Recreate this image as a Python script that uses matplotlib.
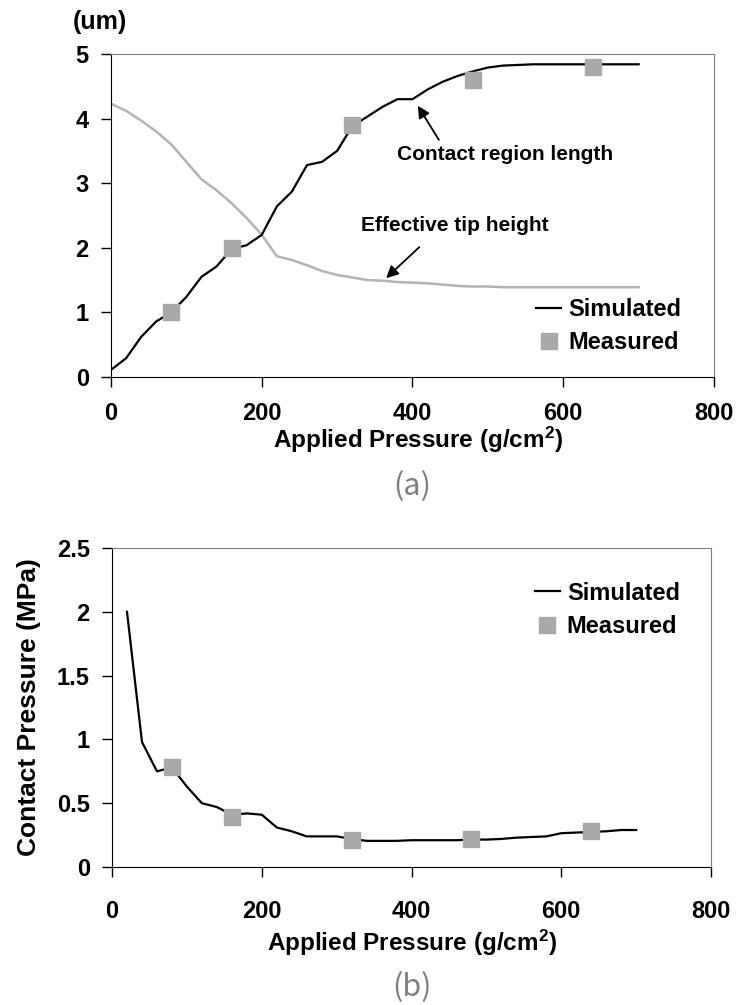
import matplotlib
matplotlib.use("Agg")
import matplotlib.pyplot as plt
from matplotlib.ticker import FuncFormatter

plt.rcParams['font.family'] = ['Liberation Sans', 'DejaVu Sans']
plt.rcParams['mathtext.default'] = 'regular'

# (a) simulated curves, every 20 g/cm2
sim_x = [0, 20, 40, 60, 80, 100, 120, 140, 160, 180, 200, 220, 240, 260, 280,
         300, 320, 340, 360, 380, 400, 420, 440, 460, 480, 500, 520, 540, 560,
         580, 600, 620, 640, 660, 680, 700]
contact_len = [0.11, 0.29, 0.62, 0.86, 1.0, 1.24, 1.55, 1.71, 1.98, 2.04, 2.2,
               2.64, 2.87, 3.28, 3.33, 3.5, 3.88, 4.03, 4.18, 4.3, 4.3, 4.45,
               4.57, 4.66, 4.73, 4.79, 4.82, 4.83, 4.84, 4.84, 4.84, 4.84,
               4.84, 4.84, 4.84, 4.84]
tip_height = [4.23, 4.12, 3.97, 3.8, 3.6, 3.33, 3.06, 2.89, 2.69, 2.46, 2.2,
              1.87, 1.81, 1.73, 1.64, 1.58, 1.54, 1.5, 1.49, 1.47, 1.46, 1.45,
              1.43, 1.41, 1.4, 1.4, 1.39, 1.39, 1.39, 1.39, 1.39, 1.39, 1.39,
              1.39, 1.39, 1.39]
meas_x = [80, 160, 320, 480, 640]
meas_len = [1.0, 2.0, 3.9, 4.6, 4.8]

# (b) contact pressure
cp_x = [20, 40, 60, 80, 100, 120, 140, 160, 180, 200, 220, 240, 260, 280, 300,
        320, 340, 360, 380, 400, 420, 440, 460, 480, 500, 520, 540, 560, 580,
        600, 620, 640, 660, 680, 700]
cp_sim = [2.0, 0.98, 0.75, 0.78, 0.63, 0.5, 0.47, 0.41, 0.42, 0.41, 0.31, 0.28,
          0.24, 0.24, 0.24, 0.22, 0.205, 0.205, 0.205, 0.21, 0.21, 0.21, 0.21,
          0.215, 0.215, 0.22, 0.23, 0.235, 0.24, 0.265, 0.27, 0.275, 0.28,
          0.29, 0.29]
cp_meas = [0.78, 0.39, 0.21, 0.22, 0.28]

xticks = [0, 200, 400, 600, 800]
gray = '#a9a9a9'
tick_fs = 17
label_fs = 17.5
leg_fs = 17
cjk = ['Noto Sans CJK KR', 'DejaVu Sans']


def style_axes(ax, pad_x):
    for s in ['top', 'right']:
        ax.spines[s].set_color('#808080')
    for s in ['left', 'bottom']:
        ax.spines[s].set_color('black')
    ax.tick_params(axis='x', direction='out', length=7, width=1, pad=pad_x,
                   labelsize=tick_fs, top=False)
    ax.tick_params(axis='y', direction='out', length=7, width=1, pad=9,
                   labelsize=tick_fs, right=False)
    for lab in ax.get_xticklabels() + ax.get_yticklabels():
        lab.set_fontweight('bold')
    ax.set_xlim(0, 800)
    ax.set_xticks(xticks)


fig = plt.figure(figsize=(7.37, 10.05), dpi=100)

# ---- (a)
ax1 = fig.add_axes([0.1506, 0.6249, 0.8182, 0.3214])
ax1.plot(sim_x, tip_height, color='#b4b4b4', lw=1.8)
ax1.plot(sim_x, contact_len, color='black', lw=1.6, label='Simulated')
ax1.plot(meas_x, meas_len, 's', color=gray, ms=11, label='Measured')
ax1.set_ylim(0, 5)
ax1.set_yticks([0, 1, 2, 3, 4, 5])
style_axes(ax1, 11)
ax1.text(0.51, -0.195, 'Applied Pressure (g/cm$^2$)', transform=ax1.transAxes,
         ha='center', va='center', fontsize=label_fs, fontweight='bold')
ax1.legend(loc='upper left', bbox_to_anchor=(0.705, 0.245), frameon=False,
           prop={'size': leg_fs, 'weight': 'bold'}, borderpad=0,
           borderaxespad=0, handlelength=1.05, handletextpad=0.3,
           labelspacing=0.45)

ax1.text(523, 3.45, 'Contact region length', ha='center', va='center',
         fontsize=15, fontweight='bold')
ax1.annotate('', xy=(407, 4.2), xytext=(435, 3.67),
             arrowprops=dict(arrowstyle='-|>', color='black', lw=1.3,
                             mutation_scale=18, shrinkA=0, shrinkB=0))
ax1.text(456, 2.34, 'Effective tip height', ha='center', va='center',
         fontsize=15, fontweight='bold')
ax1.annotate('', xy=(365, 1.53), xytext=(409, 2.01),
             arrowprops=dict(arrowstyle='-|>', color='black', lw=1.3,
                             mutation_scale=18, shrinkA=0, shrinkB=0))

fig.text(73 / 737, 1 - 22 / 1005, '(um)', ha='left', va='center',
         fontsize=18, fontweight='bold')
fig.text(0.559, 1 - 487 / 1005, '(a)', ha='center', va='center',
         fontsize=22, color='#7f7f7f', family=cjk, fontweight='light')

# ---- (b)
ax2 = fig.add_axes([0.152, 0.1373, 0.8128, 0.3174])
ax2.plot(cp_x, cp_sim, color='black', lw=1.6, label='Simulated')
ax2.plot(meas_x, cp_meas, 's', color=gray, ms=11, label='Measured')
ax2.set_ylim(0, 2.5)
ax2.set_yticks([0, 0.5, 1, 1.5, 2, 2.5])
ax2.yaxis.set_major_formatter(FuncFormatter(lambda v, p: '%g' % v))
style_axes(ax2, 17)
ax2.text(0.5, -0.238, 'Applied Pressure (g/cm$^2$)', transform=ax2.transAxes,
         ha='center', va='center', fontsize=label_fs, fontweight='bold')
ax2.set_ylabel('Contact Pressure (MPa)', fontsize=19, fontweight='bold')
ax2.yaxis.set_label_coords(-0.118, 0.5)
ax2.legend(loc='upper left', bbox_to_anchor=(0.706, 0.895), frameon=False,
           prop={'size': leg_fs, 'weight': 'bold'}, borderpad=0,
           borderaxespad=0, handlelength=1.05, handletextpad=0.3,
           labelspacing=0.45)

fig.text(0.559, 1 - 988 / 1005, '(b)', ha='center', va='center',
         fontsize=22, color='#7f7f7f', family=cjk, fontweight='light')

fig.savefig('out.png', dpi=100)
